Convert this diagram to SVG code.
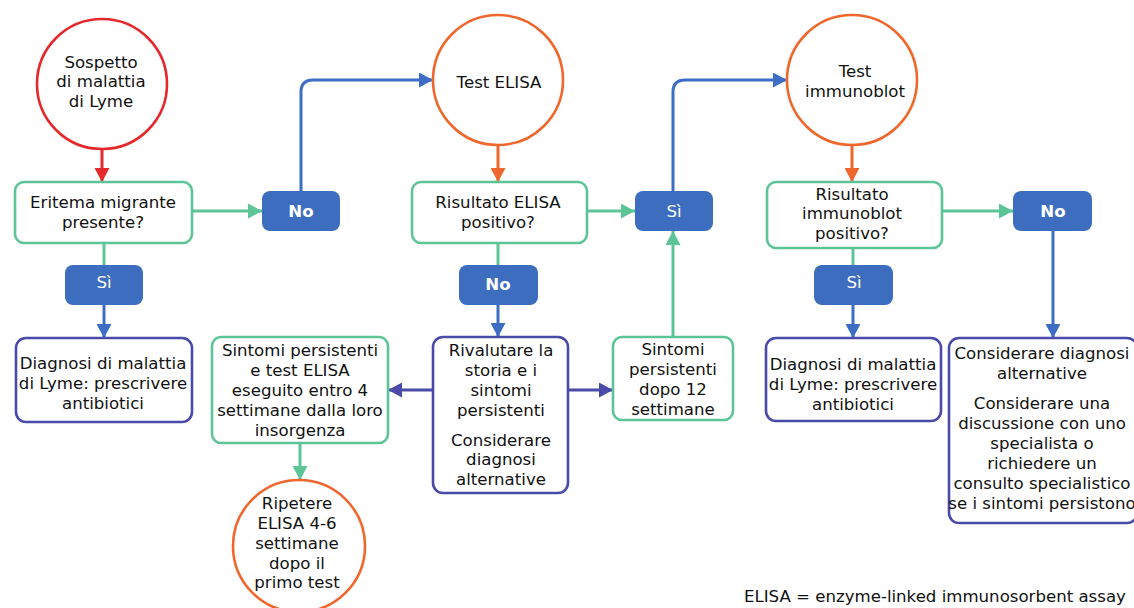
<svg xmlns="http://www.w3.org/2000/svg" width="1134" height="608" viewBox="0 0 1134 608">
<style>
text{font-family:"DejaVu Sans","Verdana",sans-serif;font-size:16.6px;fill:#111;text-anchor:middle;dominant-baseline:central}
.btn text{fill:#fff}
.btn rect{fill:#3d6dbf}
.g{fill:#fff;stroke:#5cc497;stroke-width:2.6}
.p{fill:#fff;stroke:#4a4aa8;stroke-width:2.6}
.cr{fill:#fff;stroke:#e5282b;stroke-width:2.6}
.co{fill:#fff;stroke:#f0672d;stroke-width:2.6}
.c{fill:none;stroke-width:3}
</style>
<defs>
<marker id="aR" markerUnits="userSpaceOnUse" markerWidth="15" markerHeight="15" refX="14" refY="7.5" orient="auto"><path d="M0,0 L14,7.5 L0,15 z" fill="#e5282b"/></marker>
<marker id="aO" markerUnits="userSpaceOnUse" markerWidth="15" markerHeight="15" refX="14" refY="7.5" orient="auto"><path d="M0,0 L14,7.5 L0,15 z" fill="#f0672d"/></marker>
<marker id="aG" markerUnits="userSpaceOnUse" markerWidth="15" markerHeight="15" refX="14" refY="7.5" orient="auto"><path d="M0,0 L14,7.5 L0,15 z" fill="#5cc497"/></marker>
<marker id="aB" markerUnits="userSpaceOnUse" markerWidth="15" markerHeight="15" refX="14" refY="7.5" orient="auto"><path d="M0,0 L14,7.5 L0,15 z" fill="#3d6dc4"/></marker>
<marker id="aP" markerUnits="userSpaceOnUse" markerWidth="15" markerHeight="15" refX="14" refY="7.5" orient="auto"><path d="M0,0 L14,7.5 L0,15 z" fill="#4a4aa8"/></marker>
</defs>
<rect width="1134" height="608" fill="#fff"/>
<g id="connectors">
<path class="c" stroke="#e5282b" d="M102,149 V182" marker-end="url(#aR)"/>
<path class="c" stroke="#5cc497" d="M192,211 H262" marker-end="url(#aG)"/>
<path class="c" stroke="#3d6dc4" d="M301,191 V92 Q301,80 313,80 H433" marker-end="url(#aB)"/>
<path class="c" stroke="#f0672d" d="M498,145 V182" marker-end="url(#aO)"/>
<path class="c" stroke="#5cc497" d="M587,211 H635" marker-end="url(#aG)"/>
<path class="c" stroke="#3d6dc4" d="M673,191 V92 Q673,80 685,80 H787" marker-end="url(#aB)"/>
<path class="c" stroke="#f0672d" d="M852,145 V182" marker-end="url(#aO)"/>
<path class="c" stroke="#5cc497" d="M942,211 H1013" marker-end="url(#aG)"/>
<path class="c" stroke="#3d6dc4" d="M1053,231 V338" marker-end="url(#aB)"/>
<path class="c" stroke="#5cc497" d="M104,243 V265"/>
<path class="c" stroke="#3d6dc4" d="M104,305 V338" marker-end="url(#aB)"/>
<path class="c" stroke="#5cc497" d="M498,243 V265"/>
<path class="c" stroke="#3d6dc4" d="M498,305 V337" marker-end="url(#aB)"/>
<path class="c" stroke="#5cc497" d="M853,248 V265"/>
<path class="c" stroke="#3d6dc4" d="M853,305 V338" marker-end="url(#aB)"/>
<path class="c" stroke="#4a4aa8" d="M433,390 H388" marker-end="url(#aP)"/>
<path class="c" stroke="#4a4aa8" d="M568,390 H613" marker-end="url(#aP)"/>
<path class="c" stroke="#5cc497" d="M673,337 V231" marker-end="url(#aG)"/>
<path class="c" stroke="#5cc497" d="M300,443 V480" marker-end="url(#aG)"/>
</g>
<g id="start"><circle class="cr" cx="102" cy="84" r="65"/><text x="101" y="62">Sospetto</text><text x="101" y="81">di malattia</text><text x="101" y="101">di Lyme</text></g>
<g id="eritema"><rect class="g" x="15" y="182" width="177" height="61" rx="9"/><text x="103" y="202">Eritema migrante</text><text x="103" y="222">presente?</text></g>
<g id="no1" class="btn"><rect x="262" y="191" width="78" height="40" rx="8"/><text x="301" y="211" font-weight="bold">No</text></g>
<g id="si1" class="btn"><rect x="65" y="265" width="78" height="40" rx="8"/><text x="104" y="282">Sì</text></g>
<g id="diag1"><rect class="p" x="16" y="338" width="176" height="84" rx="10"/><text x="103" y="363">Diagnosi di malattia</text><text x="103" y="383">di Lyme: prescrivere</text><text x="103" y="403">antibiotici</text></g>
<g id="elisa"><circle class="co" cx="498" cy="80" r="65"/><text x="499" y="82">Test ELISA</text></g>
<g id="risElisa"><rect class="g" x="412" y="182" width="175" height="61" rx="9"/><text x="498" y="202">Risultato ELISA</text><text x="498" y="222">positivo?</text></g>
<g id="si2" class="btn"><rect x="635" y="191" width="78" height="40" rx="8"/><text x="674" y="211">Sì</text></g>
<g id="no2" class="btn"><rect x="459" y="265" width="79" height="40" rx="8"/><text x="498" y="284" font-weight="bold">No</text></g>
<g id="rival"><rect class="p" x="433" y="337" width="135" height="156" rx="10"/><text x="501" y="350">Rivalutare la</text><text x="501" y="370">storia e i</text><text x="501" y="390">sintomi</text><text x="501" y="410">persistenti</text><text x="501" y="440">Considerare</text><text x="501" y="459">diagnosi</text><text x="501" y="479">alternative</text></g>
<g id="sint4"><rect class="g" x="212" y="337" width="176" height="106" rx="9"/><text x="300" y="350">Sintomi persistenti</text><text x="300" y="370">e test ELISA</text><text x="300" y="390">eseguito entro 4</text><text x="300" y="410">settimane dalla loro</text><text x="300" y="430">insorgenza</text></g>
<g id="ripetere"><circle class="co" cx="299" cy="546" r="66"/><text x="297" y="503">Ripetere</text><text x="297" y="523">ELISA 4-6</text><text x="297" y="543">settimane</text><text x="297" y="563">dopo il</text><text x="297" y="582">primo test</text></g>
<g id="sint12"><rect class="g" x="613" y="337" width="120" height="83" rx="9"/><text x="673" y="349">Sintomi</text><text x="673" y="369">persistenti</text><text x="673" y="389">dopo 12</text><text x="673" y="409">settimane</text></g>
<g id="immuno"><circle class="co" cx="852" cy="80" r="65"/><text x="855" y="71">Test</text><text x="855" y="91">immunoblot</text></g>
<g id="risImmuno"><rect class="g" x="767" y="182" width="175" height="66" rx="9"/><text x="852" y="194">Risultato</text><text x="852" y="213">immunoblot</text><text x="852" y="233">positivo?</text></g>
<g id="no3" class="btn"><rect x="1013" y="191" width="79" height="40" rx="8"/><text x="1053" y="211" font-weight="bold">No</text></g>
<g id="si3" class="btn"><rect x="814" y="265" width="79" height="40" rx="8"/><text x="854" y="282">Sì</text></g>
<g id="diag2"><rect class="p" x="766" y="338" width="175" height="83" rx="10"/><text x="853" y="364">Diagnosi di malattia</text><text x="853" y="384">di Lyme: prescrivere</text><text x="853" y="404">antibiotici</text></g>
<g id="consid"><rect class="p" x="949" y="338" width="188" height="185" rx="10"/><text x="1042" y="353">Considerare diagnosi</text><text x="1042" y="373">alternative</text><text x="1042" y="403">Considerare una</text><text x="1042" y="423">discussione con uno</text><text x="1042" y="443">specialista o</text><text x="1042" y="463">richiedere un</text><text x="1042" y="483">consulto specialistico</text><text x="1042" y="503">se i sintomi persistono</text></g>
<g id="legend"><text x="744" y="596" style="text-anchor:start">ELISA = enzyme-linked immunosorbent assay</text></g>
</svg>
